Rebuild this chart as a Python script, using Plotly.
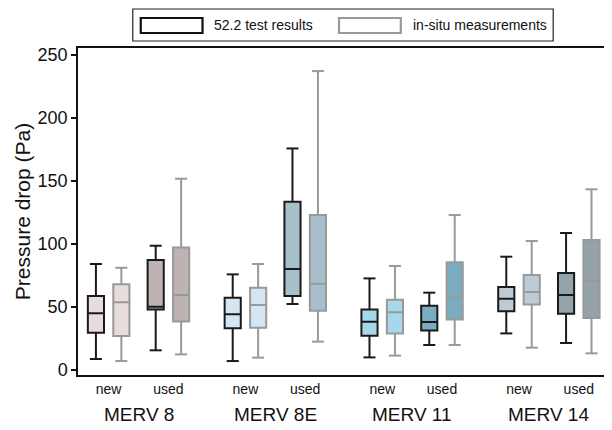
import plotly.graph_objects as go

groups = ["MERV 8", "MERV 8E", "MERV 11", "MERV 14"]
conditions = ["new", "used"]
series = ["52.2 test results", "in-situ measurements"]

# order per group: new-52.2, new-insitu, used-52.2, used-insitu
lower = [[8.7, 7.1, 15.6, 12.4], [7.1, 9.8, 52.3, 22.5], [10.0, 11.4, 19.8, 19.8], [29.0, 17.7, 21.4, 13.2]]
q1 = [[29.6, 26.9, 48.0, 38.5], [33.0, 33.5, 58.6, 47.0], [27.2, 29.0, 31.4, 40.1], [46.5, 52.0, 44.6, 41.2]]
median = [[44.9, 53.6, 50.2, 59.4], [44.1, 51.5, 80.0, 68.4], [38.3, 45.7, 38.0, 57.6], [56.5, 61.8, 59.4, 70.5]]
q3 = [[58.6, 67.9, 87.2, 97.1], [57.3, 65.2, 133.4, 122.8], [48.0, 55.7, 51.0, 85.3], [65.8, 75.3, 76.9, 103.0]]
upper = [[84.0, 81.0, 98.5, 151.6], [75.8, 84.0, 175.6, 236.9], [72.6, 82.4, 61.3, 122.8], [89.8, 102.2, 108.6, 143.2]]

fills = [["#e8dcdc", "#e8dcdc", "#bdb3b3", "#bdb3b3"],
         ["#d4e6f4", "#d4e6f4", "#a8bfcc", "#a8bfcc"],
         ["#a6d8ea", "#a6d8ea", "#7aacbf", "#7aacbf"],
         ["#bccbd6", "#bccbd6", "#94a3ab", "#94a3ab"]]
line_colors = ["#1a1a1a", "#999999"]

offsets = [0.0, 0.186, 0.437, 0.623]
bw = 0.118
cap = 0.088

# page geometry (browser body has an 8px margin)
PX0, PX1, PY0, PY1 = 78, 608, 48, 375


def px(X):
    return (X - PX0) / (PX1 - PX0)


def py(Y):
    return (PY1 - Y) / (PY1 - PY0)


fig = go.Figure()
for g in range(len(groups)):
    for k in range(4):
        x0 = g + offsets[k]
        lc = line_colors[k % 2]
        fig.add_trace(go.Box(
            x=[x0], q1=[q1[g][k]], median=[median[g][k]], q3=[q3[g][k]],
            lowerfence=[lower[g][k]], upperfence=[upper[g][k]],
            width=bw, fillcolor=fills[g][k],
            line=dict(color=lc, width=2), whiskerwidth=0,
            showlegend=False, hoverinfo="skip", boxpoints=False,
        ))
        for v in (lower[g][k], upper[g][k]):
            fig.add_trace(go.Scatter(
                x=[x0 - cap / 2, x0 + cap / 2], y=[v, v], mode="lines",
                line=dict(color=lc, width=2), showlegend=False, hoverinfo="skip",
            ))

tickvals, ticktext = [], []
for g in range(len(groups)):
    tickvals += [g + (offsets[0] + offsets[1]) / 2, g + (offsets[2] + offsets[3]) / 2]
    ticktext += conditions
    fig.add_annotation(x=g + (offsets[0] + offsets[3]) / 2, y=py(414), xref="x", yref="paper",
                       text=groups[g], showarrow=False,
                       font=dict(size=19, color="#111"), yanchor="middle")

# manual legend
fig.add_shape(type="rect", xref="paper", yref="paper", x0=px(133), x1=px(555), y0=py(41), y1=py(9),
              line=dict(color="#222", width=1.2), fillcolor="white")
fig.add_shape(type="rect", xref="paper", yref="paper", x0=px(141), x1=px(203), y0=py(33), y1=py(18),
              line=dict(color="#111", width=2.2), fillcolor="white")
fig.add_shape(type="rect", xref="paper", yref="paper", x0=px(340), x1=px(402), y0=py(33), y1=py(18),
              line=dict(color="#999", width=2.2), fillcolor="white")
fig.add_annotation(x=px(213), y=py(25), xref="paper", yref="paper", text=series[0],
                   showarrow=False, xanchor="left", yanchor="middle", font=dict(size=14, color="#111"))
fig.add_annotation(x=px(412), y=py(25), xref="paper", yref="paper", text=series[1],
                   showarrow=False, xanchor="left", yanchor="middle", font=dict(size=14, color="#111"))

fig.update_layout(
    width=604, height=422,
    margin=dict(l=PX0 - 8, r=612 - PX1, t=PY0 - 8, b=430 - PY1),
    paper_bgcolor="white", plot_bgcolor="white",
    font=dict(family="Liberation Sans, Arial, sans-serif", color="#111"),
    showlegend=False,
)
fig.update_xaxes(range=[-0.131, 3.729], tickvals=tickvals, ticktext=ticktext,
                 ticks="", tickfont=dict(size=14), showgrid=False, zeroline=False,
                 showline=True, linecolor="#111", linewidth=1.5, mirror=True)
fig.update_yaxes(range=[-3.96, 255.2], tickvals=[0, 50, 100, 150, 200, 250],
                 ticks="outside", ticklen=5, tickcolor="#111", tickwidth=1.5,
                 tickfont=dict(size=18), showgrid=False, zeroline=False,
                 showline=True, linecolor="#111", linewidth=1.5, mirror=True,
                 title=dict(text="Pressure drop (Pa)", font=dict(size=21), standoff=1))

fig.write_html("out.html")
